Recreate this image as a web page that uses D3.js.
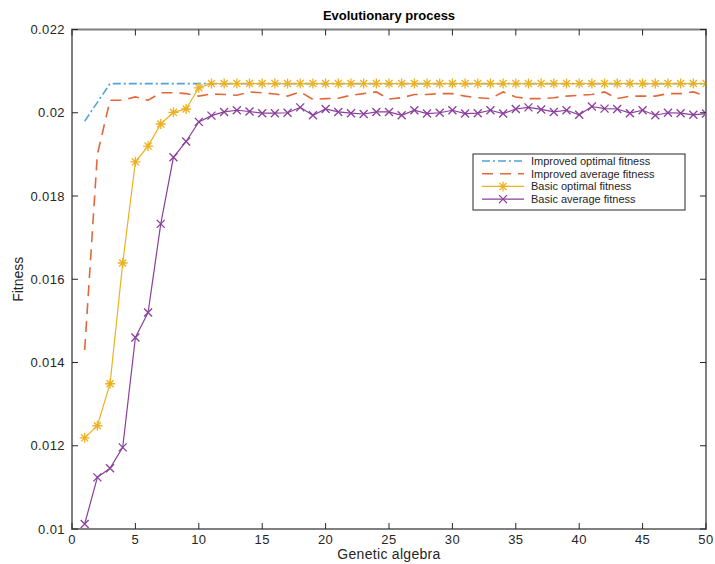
<!DOCTYPE html>
<html>
<head>
<meta charset="utf-8">
<script src="https://cdn.jsdelivr.net/npm/d3@7"></script>
<style>
  body { margin: 0; background: #fff; }
  svg { font-family: "Liberation Sans", Arial, sans-serif; }
</style>
</head>
<body>
<svg id="chart"></svg>
<script>
var width = 715;
var height = 564;

// generations 1..50
var generations = d3.range(1, 51);

var improvedOptimal = [0.0198, 0.02025, 0.0207, 0.0207, 0.0207, 0.0207, 0.0207, 0.0207, 0.0207, 0.0207,
    0.0207, 0.0207, 0.0207, 0.0207, 0.0207, 0.0207, 0.0207, 0.0207, 0.0207, 0.0207,
    0.0207, 0.0207, 0.0207, 0.0207, 0.0207, 0.0207, 0.0207, 0.0207, 0.0207, 0.0207,
    0.0207, 0.0207, 0.0207, 0.0207, 0.0207, 0.0207, 0.0207, 0.0207, 0.0207, 0.0207,
    0.0207, 0.0207, 0.0207, 0.0207, 0.0207, 0.0207, 0.0207, 0.0207, 0.0207, 0.0207];

var improvedAverage = [0.0143, 0.0190, 0.0203, 0.0203, 0.02038, 0.0203, 0.02048, 0.02048, 0.02046, 0.0204,
    0.02045, 0.02044, 0.02042, 0.0205, 0.02048, 0.02045, 0.0204, 0.0205, 0.02032, 0.02034,
    0.02035, 0.02042, 0.02046, 0.0205, 0.02033, 0.02036, 0.02044, 0.02044, 0.02046, 0.02046,
    0.0204, 0.02036, 0.02034, 0.0205, 0.02038, 0.02034, 0.02034, 0.02036, 0.0204, 0.02042,
    0.02044, 0.0205, 0.02034, 0.0204, 0.0204, 0.0204, 0.02046, 0.02046, 0.0205, 0.0204];

var basicOptimal = [0.01219, 0.01248, 0.01349, 0.01639, 0.01882, 0.0192, 0.01973, 0.02001, 0.02009, 0.0206,
    0.0207, 0.0207, 0.0207, 0.0207, 0.0207, 0.0207, 0.0207, 0.0207, 0.0207, 0.0207,
    0.0207, 0.0207, 0.0207, 0.0207, 0.0207, 0.0207, 0.0207, 0.0207, 0.0207, 0.0207,
    0.0207, 0.0207, 0.0207, 0.0207, 0.0207, 0.0207, 0.0207, 0.0207, 0.0207, 0.0207,
    0.0207, 0.0207, 0.0207, 0.0207, 0.0207, 0.0207, 0.0207, 0.0207, 0.0207, 0.0207];

var basicAverage = [0.01012, 0.01124, 0.01146, 0.01196, 0.0146, 0.0152, 0.01733, 0.01893, 0.01931, 0.01978,
    0.01993, 0.02002, 0.02006, 0.02003, 0.01999, 0.01999, 0.02, 0.02013, 0.01994, 0.02009,
    0.02002, 0.01999, 0.01997, 0.02002, 0.02002, 0.01994, 0.02006, 0.01998, 0.02, 0.02006,
    0.01998, 0.01999, 0.02006, 0.01998, 0.02009, 0.02013, 0.02008, 0.02002, 0.02006, 0.01995,
    0.02015, 0.0201, 0.02009, 0.01999, 0.02006, 0.01994, 0.02, 0.01999, 0.01995, 0.01998];

var xTicks = [0, 5, 10, 15, 20, 25, 30, 35, 40, 45, 50];
var yTicks = [0.01, 0.012, 0.014, 0.016, 0.018, 0.02, 0.022];

var series = [
    { name: "Improved optimal fitness", values: improvedOptimal, color: "#4fa3dd", dash: "8,3,2,3", marker: null },
    { name: "Improved average fitness", values: improvedAverage, color: "#e2683a", dash: "11,7", marker: null },
    { name: "Basic optimal fitness", values: basicOptimal, color: "#edb120", dash: null, marker: "star" },
    { name: "Basic average fitness", values: basicAverage, color: "#8a3f9c", dash: null, marker: "x" }
];

var margin = { top: 29.5, right: 9, bottom: 35, left: 72 };

var x = d3.scaleLinear().domain([0, 50]).range([margin.left, width - margin.right]);
var y = d3.scaleLinear().domain([0.01, 0.022]).range([height - margin.bottom, margin.top]);

var svg = d3.select("#chart").attr("width", width).attr("height", height);

var axisColor = "#808080";
var textColor = "#262626";

// plot lines (clipped to axes)
svg.append("clipPath").attr("id", "clip")
    .append("rect")
    .attr("x", margin.left).attr("y", margin.top)
    .attr("width", x(50) - x(0)).attr("height", y(0.01) - y(0.022));

var plot = svg.append("g").attr("clip-path", "url(#clip)");

var line = d3.line()
    .x(function (d, i) { return x(generations[i]); })
    .y(function (d) { return y(d); });

function drawMarker(g, type, color) {
    if (type == "star") {
        var r = 5;
        var p = "";
        [0, 45, 90, 135].forEach(function (a) {
            var rad = a * Math.PI / 180;
            p += "M" + (-r * Math.cos(rad)) + "," + (-r * Math.sin(rad)) + "L" + (r * Math.cos(rad)) + "," + (r * Math.sin(rad));
        });
        g.append("path").attr("d", p).attr("stroke", color).attr("stroke-width", 1.3).attr("fill", "none");
    } else if (type == "x") {
        var s = 4;
        g.append("path").attr("d", "M" + -s + "," + -s + "L" + s + "," + s + "M" + -s + "," + s + "L" + s + "," + -s)
            .attr("stroke", color).attr("stroke-width", 1.3).attr("fill", "none");
    }
}

series.forEach(function (s) {
    plot.append("path")
        .datum(s.values)
        .attr("d", line)
        .attr("fill", "none")
        .attr("stroke", s.color)
        .attr("stroke-width", s.marker ? 1.2 : 1.6)
        .attr("stroke-dasharray", s.dash);
    if (s.marker) {
        s.values.forEach(function (v, i) {
            var g = plot.append("g").attr("transform", "translate(" + x(generations[i]) + "," + y(v) + ")");
            drawMarker(g, s.marker, s.color);
        });
    }
});

// axes box
var box = svg.append("g");
box.append("rect")
    .attr("x", x(0)).attr("y", y(0.022))
    .attr("width", x(50) - x(0)).attr("height", y(0.01) - y(0.022))
    .attr("fill", "none").attr("stroke", axisColor).attr("stroke-width", 2);

var tickLen = 6;
xTicks.forEach(function (t) {
    box.append("line").attr("x1", x(t)).attr("x2", x(t)).attr("y1", y(0.01)).attr("y2", y(0.01) - tickLen)
        .attr("stroke", textColor).attr("stroke-width", 1);
    box.append("line").attr("x1", x(t)).attr("x2", x(t)).attr("y1", y(0.022)).attr("y2", y(0.022) + tickLen)
        .attr("stroke", textColor).attr("stroke-width", 1);
    svg.append("text").attr("x", x(t)).attr("y", y(0.01) + 15)
        .attr("text-anchor", "middle").attr("font-size", 13).attr("letter-spacing", 0.4).attr("fill", textColor)
        .text(d3.format("d")(t));
});

yTicks.forEach(function (t) {
    box.append("line").attr("x1", x(0)).attr("x2", x(0) + tickLen).attr("y1", y(t)).attr("y2", y(t))
        .attr("stroke", textColor).attr("stroke-width", 1);
    box.append("line").attr("x1", x(50)).attr("x2", x(50) - tickLen).attr("y1", y(t)).attr("y2", y(t))
        .attr("stroke", textColor).attr("stroke-width", 1);
    svg.append("text").attr("x", x(0) - 7).attr("y", y(t) + 4.5)
        .attr("text-anchor", "end").attr("font-size", 13).attr("letter-spacing", 0.4).attr("fill", textColor)
        .text(String(+t.toFixed(3)));
});

// title and labels
svg.append("text").attr("x", (x(0) + x(50)) / 2).attr("y", 20)
    .attr("text-anchor", "middle").attr("font-size", 13).attr("font-weight", "bold").attr("fill", "#000")
    .text("Evolutionary process");

svg.append("text").attr("x", (x(0) + x(50)) / 2).attr("y", 559)
    .attr("text-anchor", "middle").attr("font-size", 14).attr("letter-spacing", 0.3).attr("fill", textColor)
    .text("Genetic algebra");

svg.append("text")
    .attr("transform", "translate(23," + ((y(0.01) + y(0.022)) / 2) + ") rotate(-90)")
    .attr("text-anchor", "middle").attr("font-size", 14).attr("fill", textColor)
    .text("Fitness");

// legend
var legend = svg.append("g").attr("transform", "translate(473,154)");
legend.append("rect").attr("width", 212).attr("height", 56)
    .attr("fill", "#fff").attr("stroke", textColor).attr("stroke-width", 1);

series.forEach(function (s, i) {
    var ly = 7 + i * 12.7;
    legend.append("line").attr("x1", 9).attr("x2", 51).attr("y1", ly).attr("y2", ly)
        .attr("stroke", s.color).attr("stroke-width", s.marker ? 1.2 : 1.6)
        .attr("stroke-dasharray", s.dash);
    if (s.marker) {
        var g = legend.append("g").attr("transform", "translate(30," + ly + ")");
        drawMarker(g, s.marker, s.color);
    }
    legend.append("text").attr("x", 58).attr("y", ly + 4)
        .attr("font-size", 11).attr("fill", textColor)
        .text(s.name);
});
</script>
</body>
</html>
